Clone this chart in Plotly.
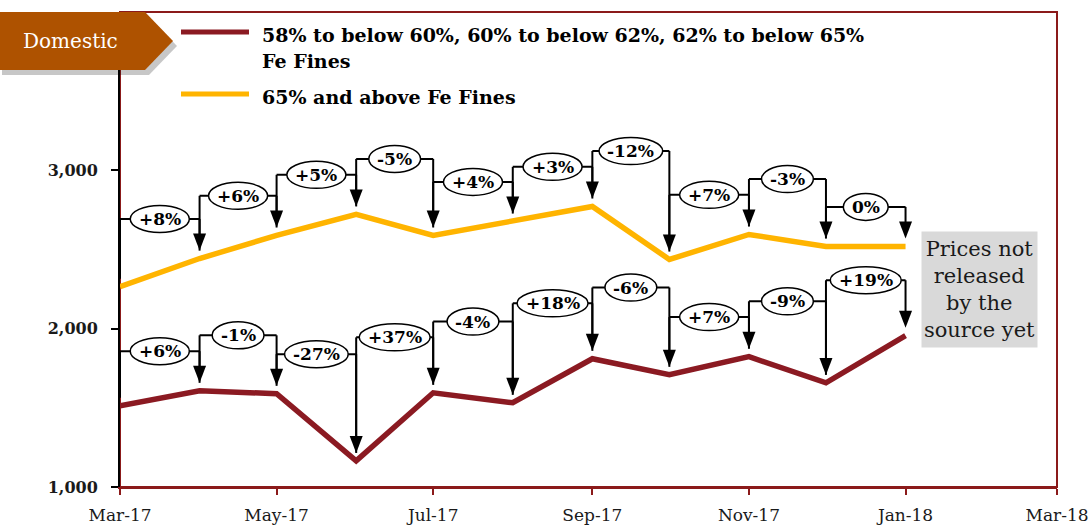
import plotly.graph_objects as go
import pandas as pd

# ---------------- data ----------------
months = ['2017-03-01', '2017-04-01', '2017-05-01', '2017-06-01', '2017-07-01', '2017-08-01',
          '2017-09-01', '2017-10-01', '2017-11-01', '2017-12-01', '2018-01-01']
fines_58_65 = [1513, 1608, 1589, 1165, 1595, 1532, 1810, 1709, 1823, 1658, 1956]
fines_65_above = [2266, 2443, 2589, 2722, 2589, 2677, 2772, 2437, 2595, 2519, 2519]
pct_58_65 = ['+6%', '-1%', '-27%', '+37%', '-4%', '+18%', '-6%', '+7%', '-9%', '+19%']
pct_65_above = ['+8%', '+6%', '+5%', '-5%', '+4%', '+3%', '-12%', '+7%', '-3%', '0%']
# stacking level of each change bracket (layout only)
lift_58_65 = [0, 1, 0, 1, 2, 1, 2, 0, 1, 1]
lift_65_above = [0, 0, 0, 1, 0, 0, 1, 0, 1, 0]
series_names = ['58% to below 60%, 60% to below 62%, 62% to below 65%', 'Fe Fines',
                '65% and above Fe Fines']
y_ticks = [1000, 2000, 3000]
note_text = 'Prices not<br>released<br>by the<br>source yet'
tag_text = 'Domestic'

# ---------------- style ----------------
MAROON = '#8B1A22'
YELLOW = '#FFB400'
BORDER = '#8B1A1A'
TAG = '#AE5200'
SERIF = 'DejaVu Serif'
BASE, STEP, GAP, HEAD = 250, 100, 50, 85
LBL = 17

fig = go.Figure()
fig.add_trace(go.Scatter(x=months, y=fines_65_above, mode='lines',
                         line=dict(color=YELLOW, width=5.5), showlegend=False, hoverinfo='skip'))
fig.add_trace(go.Scatter(x=months, y=fines_58_65, mode='lines',
                         line=dict(color=MAROON, width=5.5), showlegend=False, hoverinfo='skip'))

shapes = []
annotations = []

# plot border
shapes.append(dict(type='rect', xref='paper', yref='paper', x0=0, x1=1, y0=0, y1=1,
                   line=dict(color=BORDER, width=2), layer='below'))

CW = {'+': 0.838, '-': 0.411, '%': 1.0}


def text_w(s, size):
    return sum(CW.get(c, 0.696) for c in s) * size


def brackets(values, labels, lifts):
    line_shapes, head_shapes, ell_shapes = [], [], []
    for i, lab in enumerate(labels):
        x0, x1 = months[i], months[i + 1]
        v0, v1 = values[i], values[i + 1]
        top = max(v0, v1) + BASE + STEP * lifts[i]
        ln = dict(color='black', width=2)
        line_shapes.append(dict(type='line', xref='x', yref='y', x0=x0, x1=x0, y0=v0 + GAP, y1=top, line=ln))
        line_shapes.append(dict(type='line', xref='x', yref='y', x0=x0, x1=x1, y0=top, y1=top, line=ln))
        line_shapes.append(dict(type='line', xref='x', yref='y', x0=x1, x1=x1, y0=top, y1=v1 + GAP + HEAD, line=ln))
        head_shapes.append(dict(type='path', xref='x', yref='y', xsizemode='pixel', ysizemode='pixel',
                                xanchor=x1, yanchor=v1 + GAP, path='M -6.5,17 L 6.5,17 L 0,0 Z',
                                fillcolor='black', line=dict(width=0)))
        t0, t1 = pd.Timestamp(x0), pd.Timestamp(x1)
        mid = (t0 + (t1 - t0) / 2).strftime('%Y-%m-%d %H:%M')
        w = text_w(lab, LBL) + 16
        ell_shapes.append(dict(type='circle', xref='x', yref='y', xsizemode='pixel', ysizemode='pixel',
                               xanchor=mid, yanchor=top, x0=-w / 2, x1=w / 2, y0=-13.5, y1=13.5,
                               fillcolor='white', line=dict(color='black', width=1.5)))
        annotations.append(dict(x=mid, y=top, xref='x', yref='y', text=lab, showarrow=False,
                                font=dict(family=SERIF, size=LBL, color='black', weight='bold'),
                                xanchor='center', yanchor='middle'))
    return line_shapes + head_shapes + ell_shapes


shapes += brackets(fines_65_above, pct_65_above, lift_65_above)
shapes += brackets(fines_58_65, pct_58_65, lift_58_65)

# Domestic tag with shadow
shapes.append(dict(type='path', xref='paper', yref='paper', xsizemode='pixel', ysizemode='pixel',
                   xanchor=0, yanchor=1, path='M -118,-5 L 29,-5 L 57,-34 L 29,-63 L -118,-63 Z',
                   fillcolor='rgba(0,0,0,0.22)', line=dict(width=0)))
shapes.append(dict(type='path', xref='paper', yref='paper', xsizemode='pixel', ysizemode='pixel',
                   xanchor=0, yanchor=1, path='M -122,0 L 25,0 L 53,-29 L 25,-58 L -122,-58 Z',
                   fillcolor=TAG, line=dict(width=0)))
annotations.append(dict(x=0, y=1, xref='paper', yref='paper', xshift=-50, yshift=-29, text=tag_text,
                        showarrow=False, xanchor='center', yanchor='middle',
                        font=dict(family=SERIF, size=20, color='white')))

# legend (custom)
for yoff, col in [(-20, MAROON), (-82, YELLOW)]:
    shapes.append(dict(type='line', xref='paper', yref='paper', xsizemode='pixel', ysizemode='pixel',
                       xanchor=0, yanchor=1, x0=61, x1=129, y0=yoff, y1=yoff,
                       line=dict(color=col, width=5)))
for txt, ys in zip(series_names, [-23, -49, -85]):
    annotations.append(dict(x=0, y=1, xref='paper', yref='paper', xshift=140, yshift=ys, text=txt,
                            showarrow=False, xanchor='left', yanchor='middle',
                            font=dict(family=SERIF, size=19, color='black', weight='bold')))

# note box
annotations.append(dict(x=0, y=1, xref='paper', yref='paper', xshift=859.5, yshift=-277,
                        text=note_text, showarrow=False, xanchor='center', yanchor='middle',
                        width=115, height=115, bgcolor='#D9D9D9', borderpad=0,
                        font=dict(family=SERIF, size=21, color='#1a1a1a')))

fig.update_layout(
    width=1092, height=531,
    margin=dict(l=120, r=35, t=12, b=44, autoexpand=False),
    paper_bgcolor='white', plot_bgcolor='white',
    shapes=shapes, annotations=annotations,
    showlegend=False,
    xaxis=dict(type='date', range=['2017-03-01', '2018-03-01'], tick0='2017-03-01', dtick='M2',
               tickformat='%b-%y', showgrid=False, zeroline=False, automargin=False,
               showline=True, linecolor=BORDER, linewidth=2,
               ticks='outside', tickcolor=BORDER, ticklen=6, tickwidth=2,
               ticklabelstandoff=6,
               tickfont=dict(family=SERIF, size=17, color='#1a1a1a')),
    yaxis=dict(range=[1000, 4000], tickvals=y_ticks, tickformat=',', showgrid=False, zeroline=False,
               automargin=False,
               showline=True, linecolor='black', linewidth=2,
               ticks='outside', tickcolor='black', ticklen=7, tickwidth=2,
               ticklabelstandoff=10,
               tickfont=dict(family=SERIF, size=16, color='#1a1a1a', weight='bold')),
)

fig.write_html('out.html', config={'displayModeBar': False},
               post_script="document.body.style.margin='0';document.body.style.overflow='hidden';")
